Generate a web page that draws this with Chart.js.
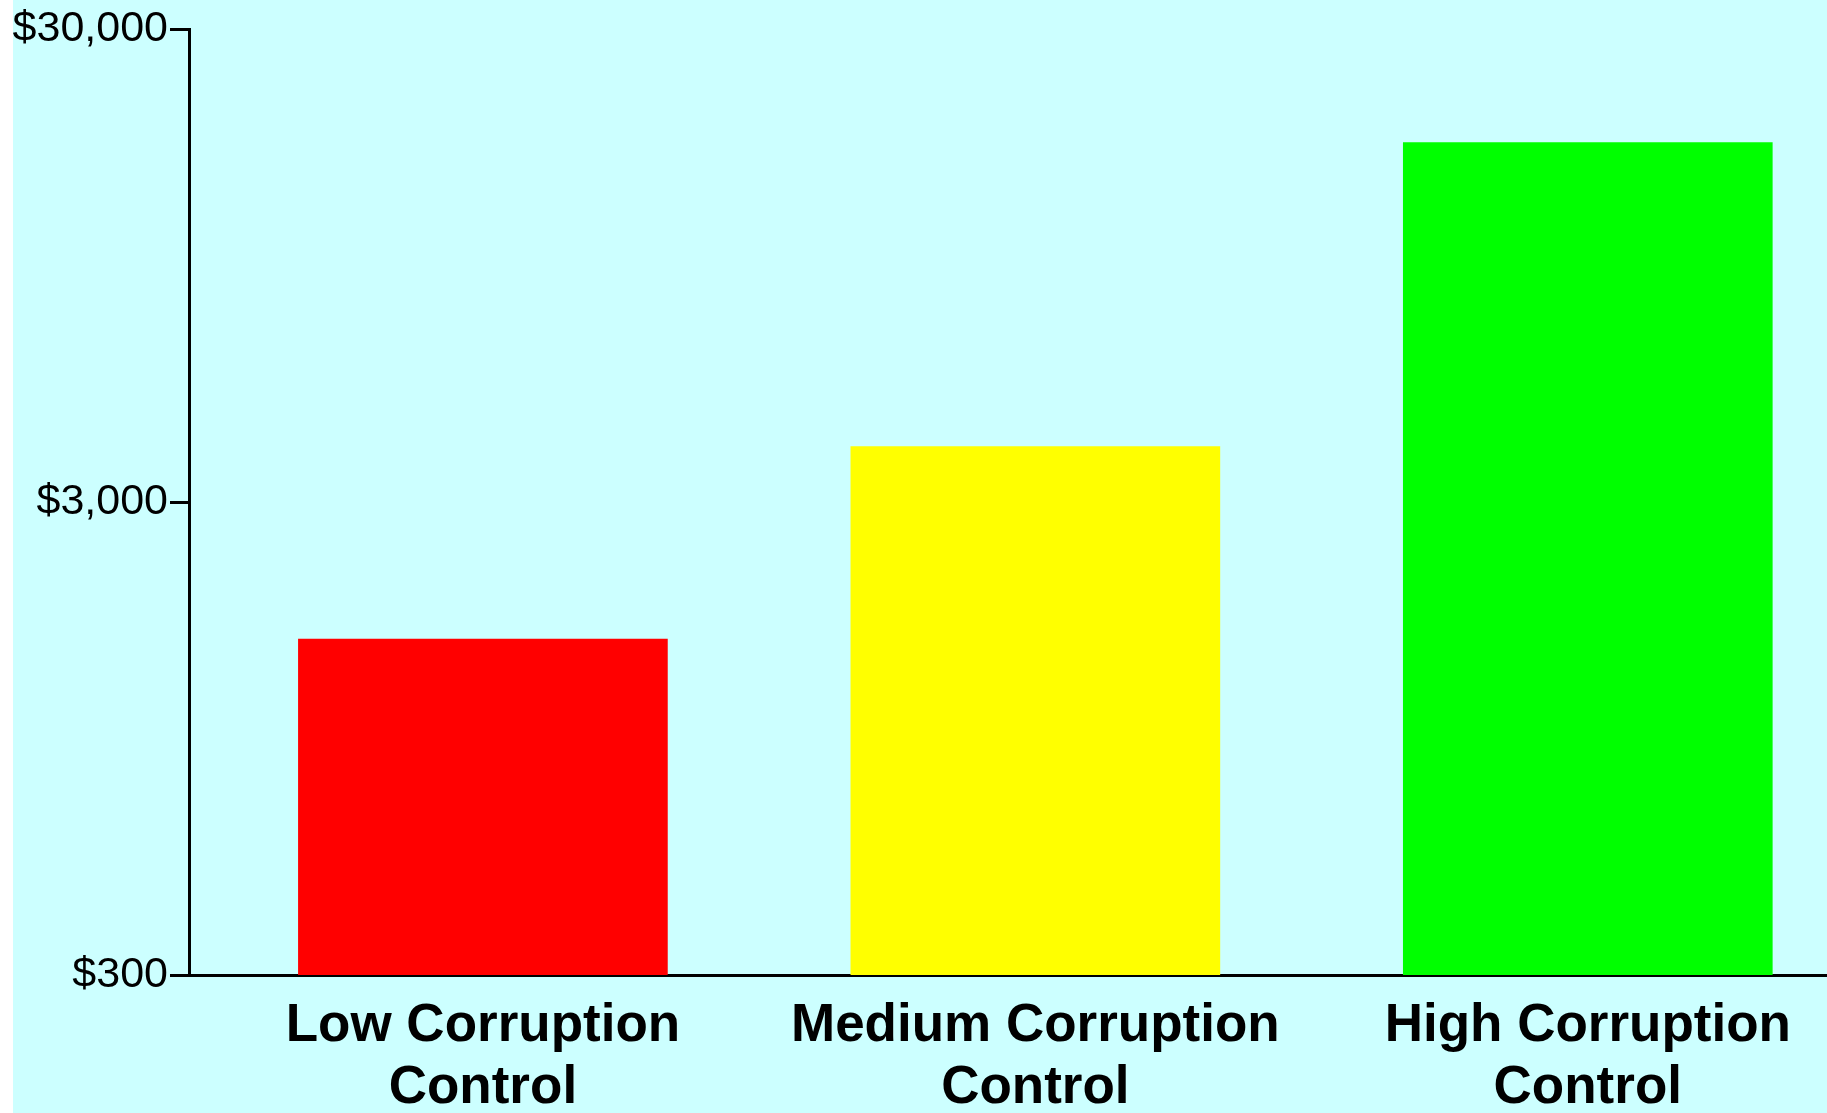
<!DOCTYPE html>
<html>
<head>
<meta charset="utf-8">
<script src="https://cdn.jsdelivr.net/npm/chart.js@4"></script>
<style>
  html, body { margin: 0; padding: 0; background: #ffffff; overflow: hidden; }
  #wrap { position: absolute; left: 13px; top: 0; width: 1814px; height: 1113px; background: #CCFFFF; }
  canvas { display: block; }
</style>
</head>
<body>
<div id="wrap"><canvas id="c" width="1814" height="1113"></canvas></div>
<script>
// ---- data ----
const categories = [
  ["Low Corruption", "Control"],
  ["Medium Corruption", "Control"],
  ["High Corruption", "Control"]
];
const categoryPositions = [0, 1, 2];
const incomeValues = [1540, 3930, 17250];
const barColors = ["#FF0000", "#FFFF00", "#00FF00"];
const yTickValues = [300, 3000, 30000];

const points = categoryPositions.map((x, i) => ({ x: x, y: incomeValues[i] }));

new Chart(document.getElementById('c'), {
  type: 'bar',
  data: {
    datasets: [{
      data: points,
      backgroundColor: barColors,
      borderWidth: 0,
      barThickness: 369
    }]
  },
  options: {
    responsive: false,
    animation: false,
    events: [],
    layout: { padding: { top: 29, right: 0, left: 0, bottom: 0 } },
    plugins: { legend: { display: false }, tooltip: { enabled: false } },
    scales: {
      x: {
        type: 'linear',
        offset: false,
        min: -0.532,
        max: 2.433,
        afterBuildTicks: (scale) => { scale.ticks = categoryPositions.map(v => ({ value: v })); },
        afterFit: (scale) => { scale.height = 138; },
        grid: { drawOnChartArea: false, drawTicks: false, offset: false },
        border: { display: true, color: '#000000', width: 3 },
        ticks: {
          padding: 20,
          maxRotation: 0,
          autoSkip: false,
          color: '#000000',
          font: { family: 'Liberation Sans, Arial, sans-serif', size: 53, weight: 'bold', lineHeight: 1.17 },
          callback: (v) => categories[categoryPositions.indexOf(v)] || ''
        }
      },
      y: {
        type: 'logarithmic',
        min: 300,
        max: 30000,
        afterBuildTicks: (scale) => { scale.ticks = yTickValues.map(v => ({ value: v })); },
        afterFit: (scale) => { scale.width = 176; },
        grid: { drawOnChartArea: false, drawTicks: true, tickLength: 19, tickWidth: 3, tickColor: '#000000' },
        border: { display: true, color: '#000000', width: 3 },
        ticks: {
          padding: 2,
          color: '#000000',
          font: { family: 'Liberation Sans, Arial, sans-serif', size: 43, lineHeight: 1.2 },
          callback: (v) => '$' + Number(v).toLocaleString('en-US')
        }
      }
    }
  }
});
</script>
</body>
</html>
